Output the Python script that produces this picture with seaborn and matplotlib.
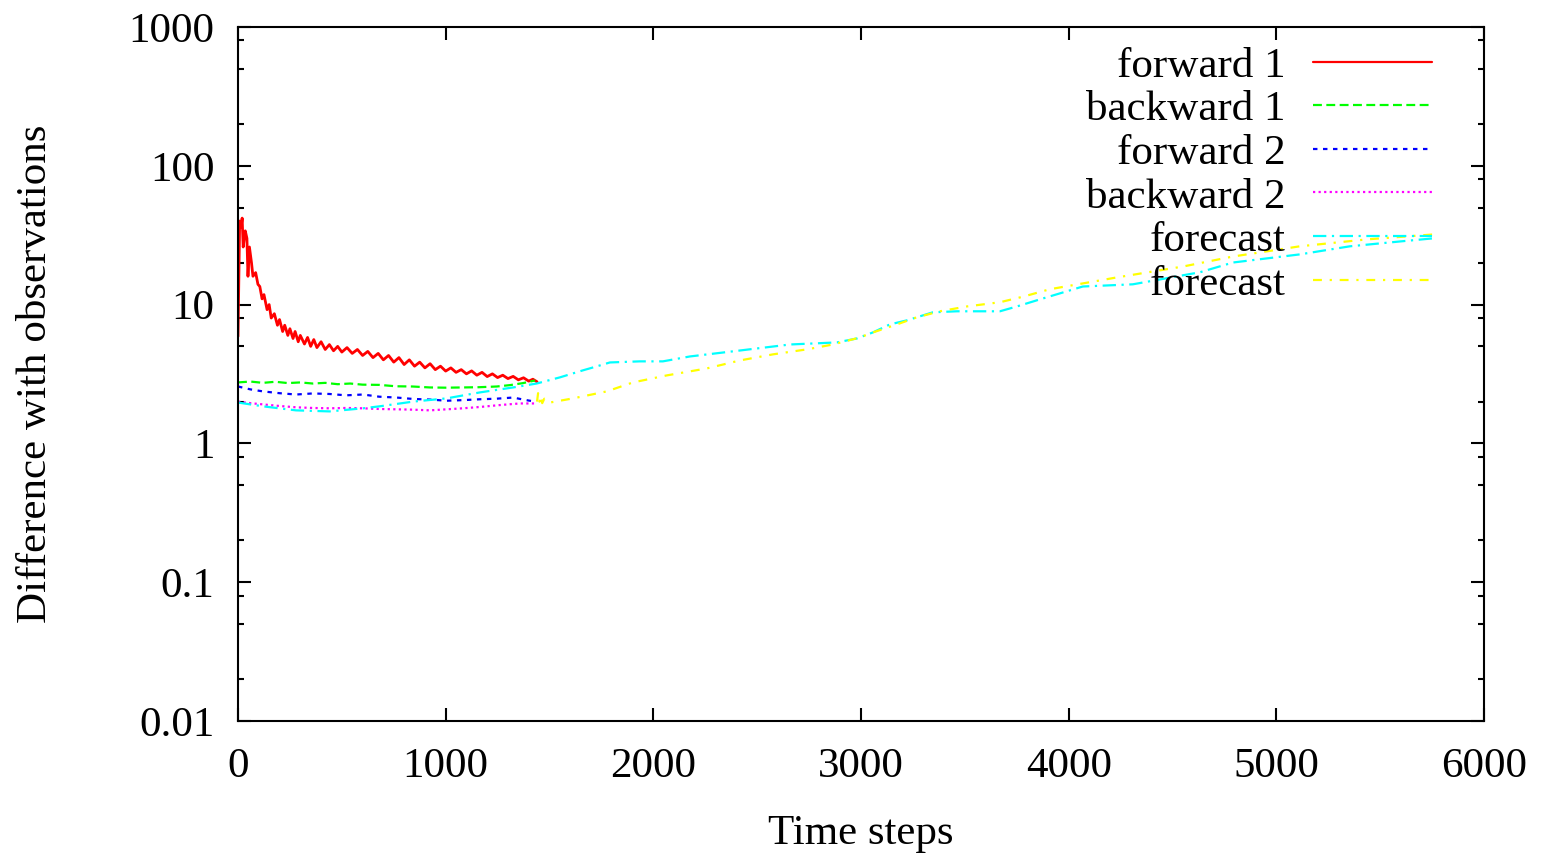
import numpy as np
import pandas as pd
import matplotlib
matplotlib.use('Agg')
from matplotlib import pyplot as plt
from matplotlib.ticker import LogLocator, NullFormatter, FuncFormatter, MultipleLocator
import seaborn as sns

sns.set_theme(style='white', rc={'text.color': 'black', 'axes.labelcolor': 'black'})
plt.rcParams['font.family'] = ['Liberation Serif', 'DejaVu Serif']

# data
fwd1_t = [0, 8, 15, 20, 25, 35, 43, 48, 55, 65, 72, 85, 96, 105, 116, 125, 140, 150,
          160, 175, 190, 200, 215, 225, 240, 250, 265, 275, 290, 300, 320, 335, 350,
          365, 380, 400, 420, 440, 460, 480, 500, 525, 550, 575, 600, 625, 650, 675,
          700, 725, 750, 775, 800, 825, 850, 875, 900, 925, 950, 975, 1000, 1025,
          1050, 1075, 1100, 1125, 1150, 1175, 1200, 1225, 1250, 1275, 1300, 1325,
          1350, 1375, 1400, 1420, 1440]
fwd1_v = [5.9, 40, 36, 42, 26, 34, 30, 16, 26, 20, 16, 17, 14, 13.5, 11, 11.8, 9.2, 10.0,
          8.0, 8.6, 7.1, 7.8, 6.4, 7.1, 6.0, 6.7, 5.7, 6.4, 5.4, 6.0, 5.2, 5.8, 5.0,
          5.6, 4.9, 5.4, 4.75, 5.15, 4.65, 5.0, 4.55, 4.9, 4.45, 4.75, 4.3, 4.6, 4.15, 4.45,
          4.0, 4.3, 3.85, 4.15, 3.7, 4.0, 3.6, 3.85, 3.5, 3.75, 3.4, 3.6, 3.32, 3.5,
          3.25, 3.4, 3.17, 3.33, 3.1, 3.25, 3.03, 3.17, 2.98, 3.1, 2.93, 3.04,
          2.87, 2.97, 2.81, 2.9, 2.78]

bwd1_t = [0, 60, 120, 180, 240, 300, 360, 420, 480, 540, 600, 680, 760, 840, 924, 1000,
          1083, 1160, 1246, 1310, 1373, 1430]
bwd1_v = [2.75, 2.79, 2.73, 2.78, 2.72, 2.75, 2.70, 2.73, 2.67, 2.70, 2.65, 2.64, 2.58,
          2.57, 2.53, 2.52, 2.53, 2.54, 2.57, 2.63, 2.72, 2.84]

fwd2_t = [0, 60, 120, 200, 279, 360, 441, 520, 602, 680, 763, 843, 924, 1004, 1083,
          1165, 1246, 1325, 1380, 1430]
fwd2_v = [2.57, 2.45, 2.37, 2.30, 2.25, 2.29, 2.27, 2.22, 2.25, 2.17, 2.14, 2.09, 2.07,
          2.03, 2.05, 2.08, 2.10, 2.14, 2.06, 2.00]

bwd2_t = [0, 60, 120, 200, 279, 360, 441, 520, 602, 680, 763, 843, 924, 1004, 1083,
          1165, 1246, 1300, 1358, 1430]
bwd2_v = [2.00, 1.95, 1.91, 1.86, 1.82, 1.80, 1.79, 1.80, 1.79, 1.77, 1.76, 1.75, 1.73,
          1.76, 1.79, 1.83, 1.88, 1.91, 1.94, 1.94]

fc1_t = [0, 120, 279, 441, 602, 682, 843, 1004, 1165, 1325, 1438, 1550, 1661, 1728,
         1791, 1935, 2046, 2176, 2417, 2658, 2884, 2980, 3057, 3139, 3221, 3346, 3462,
         3669, 3751, 3861, 4068, 4309, 4632, 4791, 5113, 5354, 5595, 5754]
fc1_v = [1.97, 1.85, 1.73, 1.70, 1.79, 1.85, 2.00, 2.11, 2.33, 2.53, 2.70, 2.99, 3.36,
         3.59, 3.83, 3.90, 3.90, 4.23, 4.67, 5.16, 5.34, 5.70, 6.30, 7.20, 7.70, 8.80,
         8.95, 8.95, 9.70, 10.9, 13.5, 14.0, 17.1, 20.1, 23.0, 26.3, 28.5, 30.0]

fc2_t = [1440, 1445, 1452, 1458, 1465, 1475, 1502, 1613, 1776, 1902, 2065, 2258, 2417,
         2576, 2740, 2865, 2995, 3057, 3173, 3269, 3380, 3510, 3669, 3780, 3909, 4232,
         4550, 4791, 5113, 5436, 5754]
fc2_v = [2.00, 2.30, 2.00, 2.20, 1.95, 2.10, 1.97, 2.11, 2.37, 2.75, 3.09, 3.47, 3.96,
         4.38, 4.76, 5.16, 5.80, 6.30, 7.20, 8.10, 8.95, 9.70, 10.4, 11.4, 12.9, 15.7,
         18.8, 22.2, 26.3, 29.5, 32.0]

series = [
    ('forward 1', fwd1_t, fwd1_v, '#ff0000', '-', 2.0),
    ('backward 1', bwd1_t, bwd1_v, '#00ff00', (0, (4, 2)), 1.6),
    ('forward 2', fwd2_t, fwd2_v, '#0000ff', (0, (2, 2.5)), 1.6),
    ('backward 2', bwd2_t, bwd2_v, '#ff00ff', (0, (1, 1.5)), 1.6),
    ('forecast', fc1_t, fc1_v, '#00ffff', (0, (6, 2.5, 1, 2.5)), 1.6),
    ('forecast', fc2_t, fc2_v, '#ffff00', (0, (4, 3.5, 1, 3.5)), 1.6),
]

fig = plt.figure(figsize=(15.41, 8.55), dpi=100)
ax = fig.add_axes([238 / 1541, 1 - 721 / 855, 1246 / 1541, 694 / 855])

for name, t, v, col, ls, lw in series:
    df = pd.DataFrame({'t': t, 'v': v})
    sns.lineplot(data=df, x='t', y='v', ax=ax, color=col, linestyle=ls,
                 linewidth=lw, label=name, sort=False, estimator=None)

ax.set_yscale('log')
ax.set_xlim(0, 6000)
ax.set_ylim(0.01, 1000)
ax.xaxis.set_major_locator(MultipleLocator(1000))
ax.yaxis.set_major_locator(LogLocator(base=10, numticks=10))
ax.yaxis.set_minor_locator(LogLocator(base=10, subs=(2, 5, 8), numticks=20))
ax.yaxis.set_major_formatter(FuncFormatter(lambda y, p: '%g' % y))
ax.yaxis.set_minor_formatter(NullFormatter())

fs = 31
ax.tick_params(which='both', direction='in', top=True, right=True, bottom=True,
               left=True, labelsize=fs, width=1.5, color='black', labelcolor='black')
ax.tick_params(axis='x', which='major', length=9.5, pad=19)
ax.tick_params(axis='y', which='major', length=9.5, pad=17)
ax.tick_params(axis='y', which='minor', length=4.5)
for s in ax.spines.values():
    s.set_linewidth(1.5)
    s.set_color('black')

ax.set_xlabel('Time steps', fontsize=fs, color='black')
ax.set_ylabel('Difference with observations', fontsize=fs, color='black')
ax.xaxis.set_label_coords(0.5, -0.135)
ax.yaxis.set_label_coords(-0.147, 0.5)

leg = ax.legend(loc='upper right', bbox_to_anchor=(0.958, 0.972), frameon=False,
                markerfirst=False, fontsize=fs, handlelength=2.75, handletextpad=0.65,
                labelspacing=0.105, borderpad=0, borderaxespad=0)
for line in leg.get_lines():
    line.set_linewidth(1.6)

fig.savefig('out.png', dpi=100)
